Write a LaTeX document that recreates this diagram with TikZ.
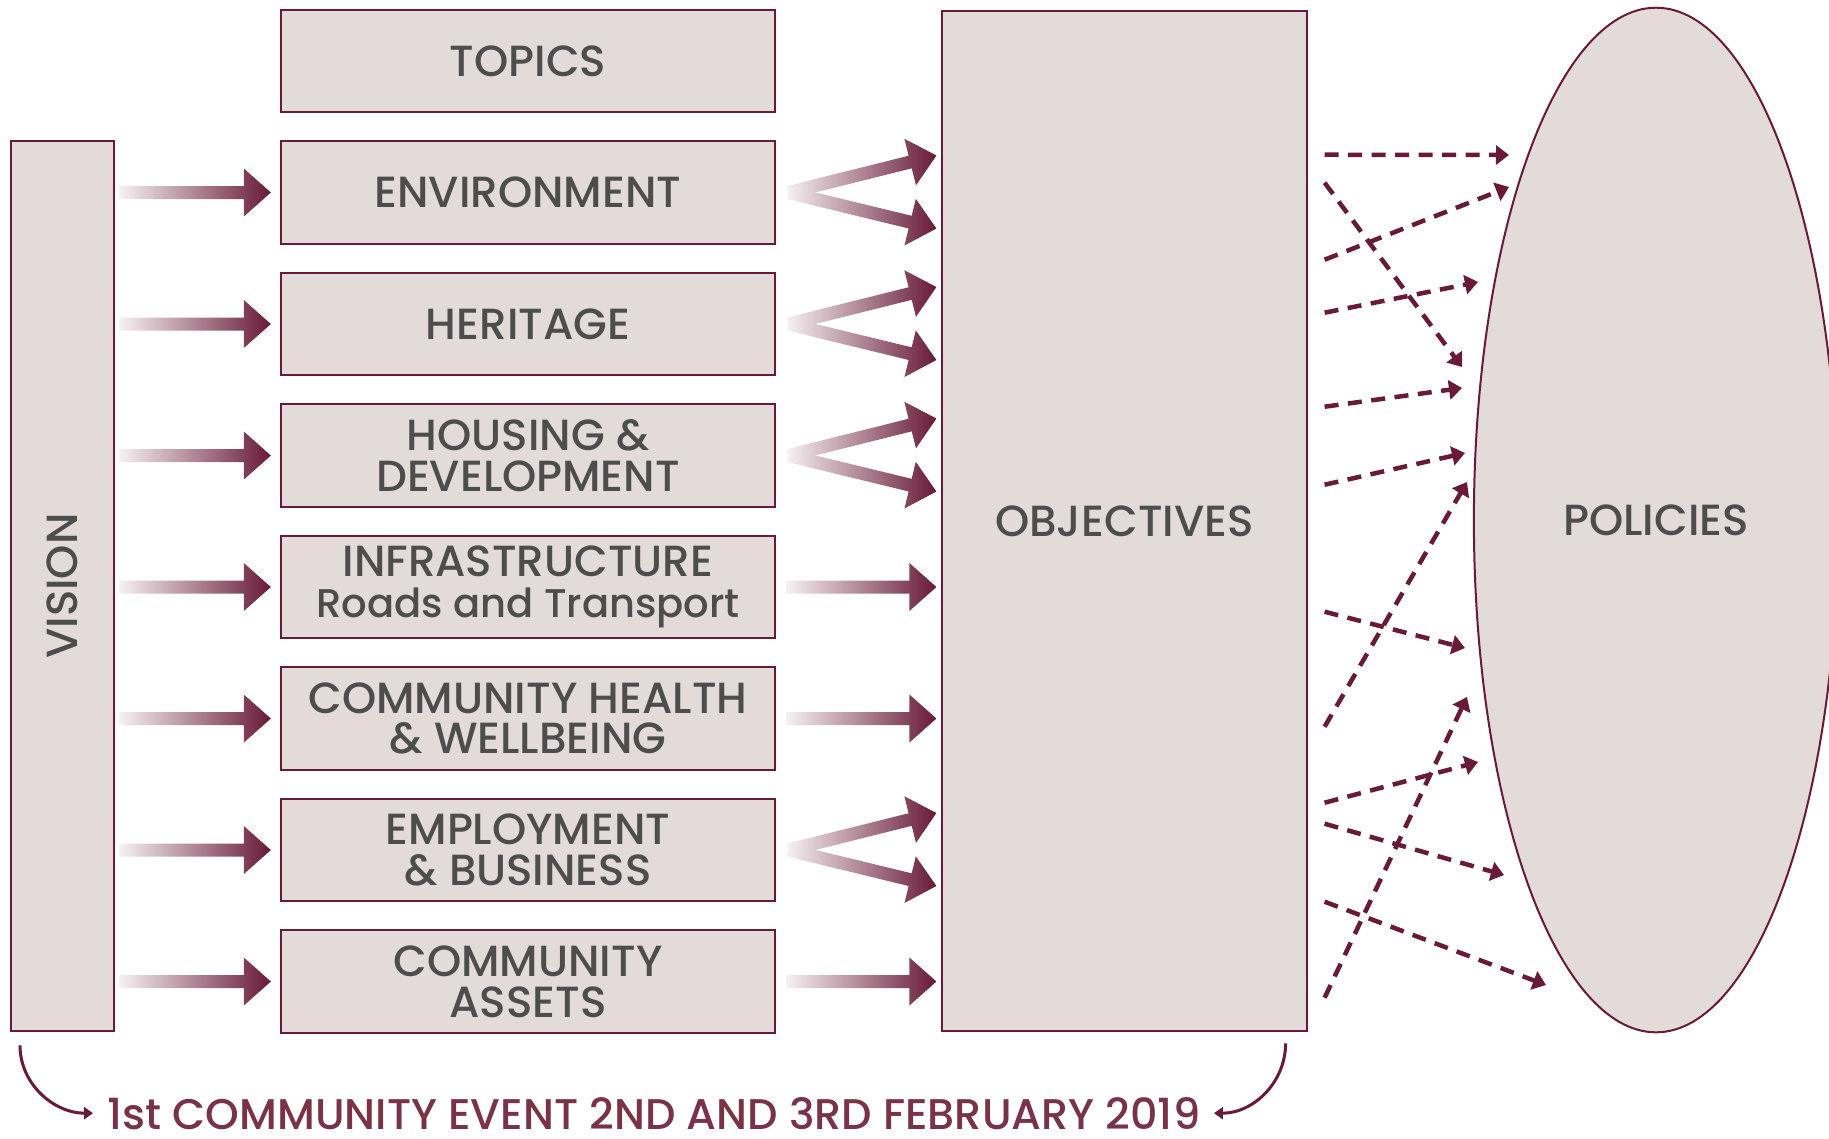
\documentclass[tikz,border=0pt]{standalone}
\usepackage{fontspec}
\IfFontExistsTF{Poppins Medium}{\setmainfont{Poppins Medium}}{\setmainfont{Poppins}[FakeBold=0.5]}
\usetikzlibrary{calc,arrows.meta,shapes.geometric}

\definecolor{boxfill}{RGB}{227,218,218}
\definecolor{wine}{RGB}{104,26,54}
\definecolor{textgrey}{RGB}{77,77,77}
\definecolor{eventred}{RGB}{122,50,70}

\tikzset{
  plainbox/.style={draw=wine, fill=boxfill, line width=0.02cm, inner sep=0pt,
    align=center, text=textgrey, font=\fontsize{12.4}{11.6}\selectfont},
  topicbox/.style={plainbox, minimum width=4.94cm, minimum height=1.02cm},
  fadearrow/.style={left color=wine!6, right color=wine},
  dasharrow/.style={wine, line width=0.045cm, dash pattern=on 0.14cm off 0.095cm,
    -{Triangle[length=0.13cm,width=0.19cm]}},
  curvearrow/.style={wine, line width=0.03cm, -{Triangle[length=0.09cm,width=0.12cm]}}
}

% thick arrow, shaded from pale to wine
\newcommand{\fadearrow}[2]{%
  \coordinate (fa-h) at ($(#2)!0.27cm!(#1)$);
  \shade[fadearrow] ($(#1)!0.065cm!90:(#2)$) -- ($(fa-h)!0.065cm!-90:(#1)$)
    -- ($(fa-h)!0.24cm!-90:(#1)$) -- (#2) -- ($(fa-h)!0.24cm!90:(#1)$)
    -- ($(fa-h)!0.065cm!90:(#1)$) -- ($(#1)!0.065cm!-90:(#2)$) -- cycle;}

\begin{document}
\begin{tikzpicture}[x=0.01cm, y=-0.01cm]
    \useasboundingbox (0,0) rectangle (1829,1138);

    \node[plainbox, minimum width=1.03cm, minimum height=8.9cm] (vision) at (62.5,586) {\rotatebox{90}{VISION}};

    \node[topicbox] (topics)   at (528,61)    {TOPICS};
    \node[topicbox] (env)      at (528,192.5) {ENVIRONMENT};
    \node[topicbox] (heritage) at (528,324)   {HERITAGE};
    \node[topicbox] (housing)  at (528,455.5) {HOUSING \&\\DEVELOPMENT};
    \node[topicbox] (infra)    at (528,587)   {INFRASTRUCTURE\\{\fontsize{11.4}{11.6}\selectfont Roads and Transport}};
    \node[topicbox] (health)   at (528,718.5) {COMMUNITY HEALTH\\\& WELLBEING};
    \node[topicbox] (employ)   at (528,850)   {EMPLOYMENT\\\& BUSINESS};
    \node[topicbox] (assets)   at (528,981.5) {COMMUNITY\\ASSETS};

    \node[plainbox, minimum width=3.64cm, minimum height=10.2cm] (obj) at (1124.5,521) {OBJECTIVES};
    \node[plainbox, ellipse, minimum width=3.64cm, minimum height=10.24cm] (pol) at (1656,520) {POLICIES};

    % vision to topics
    \foreach \t in {env,heritage,housing,infra,health,employ,assets}{
        \coordinate (a) at ($(vision.east |- \t.west)+(4,0)$);
        \coordinate (b) at ($(\t.west)+(-9,0)$);
        \fadearrow{a}{b}
    }

    % topics to objectives
    \foreach \t in {infra,health,assets}{
        \coordinate (a) at ($(\t.east)+(10,0)$);
        \coordinate (b) at ($(obj.west |- \t.east)+(-5,0)$);
        \fadearrow{a}{b}
    }
    \foreach \t in {env,heritage,housing,employ}{
        \coordinate (a) at ($(\t.east)+(12,0)$);
        \coordinate (b) at ($(obj.west |- \t.east)+(-5,-37)$);
        \coordinate (c) at ($(obj.west |- \t.east)+(-5,36)$);
        \fadearrow{a}{b}
        \fadearrow{a}{c}
    }

    % objectives to policies
    \foreach \sy/\ex/\ey in {145/-147/-365, 250/-147/-333, 173/-194/-153, 303/-178/-238,
        397/-194/-132, 475/-191/-67, 717/-189/-38, 602/-191/128, 988/-189/177,
        793/-178/242, 814/-152/355, 892/-110/465}
        \draw[dasharrow] ($(obj.north east)+(17,\sy)$) -- ($(pol.center)+(\ex,\ey)$);

    \node[text=eventred, inner sep=0pt, anchor=base, font=\fontsize{12.2}{12.2}\selectfont] (event) at (654,1129) {1st COMMUNITY EVENT 2ND AND 3RD FEBRUARY 2019};
    \draw[curvearrow] ($(vision.south west)+(10,13)$) to[out=-90,in=180] ($(event.west)+(-14,0)$);
    \draw[curvearrow] ($(obj.south east)+(-22,11)$) to[out=-90,in=0] ($(event.east)+(13,0)$);

\end{tikzpicture}
\end{document}
